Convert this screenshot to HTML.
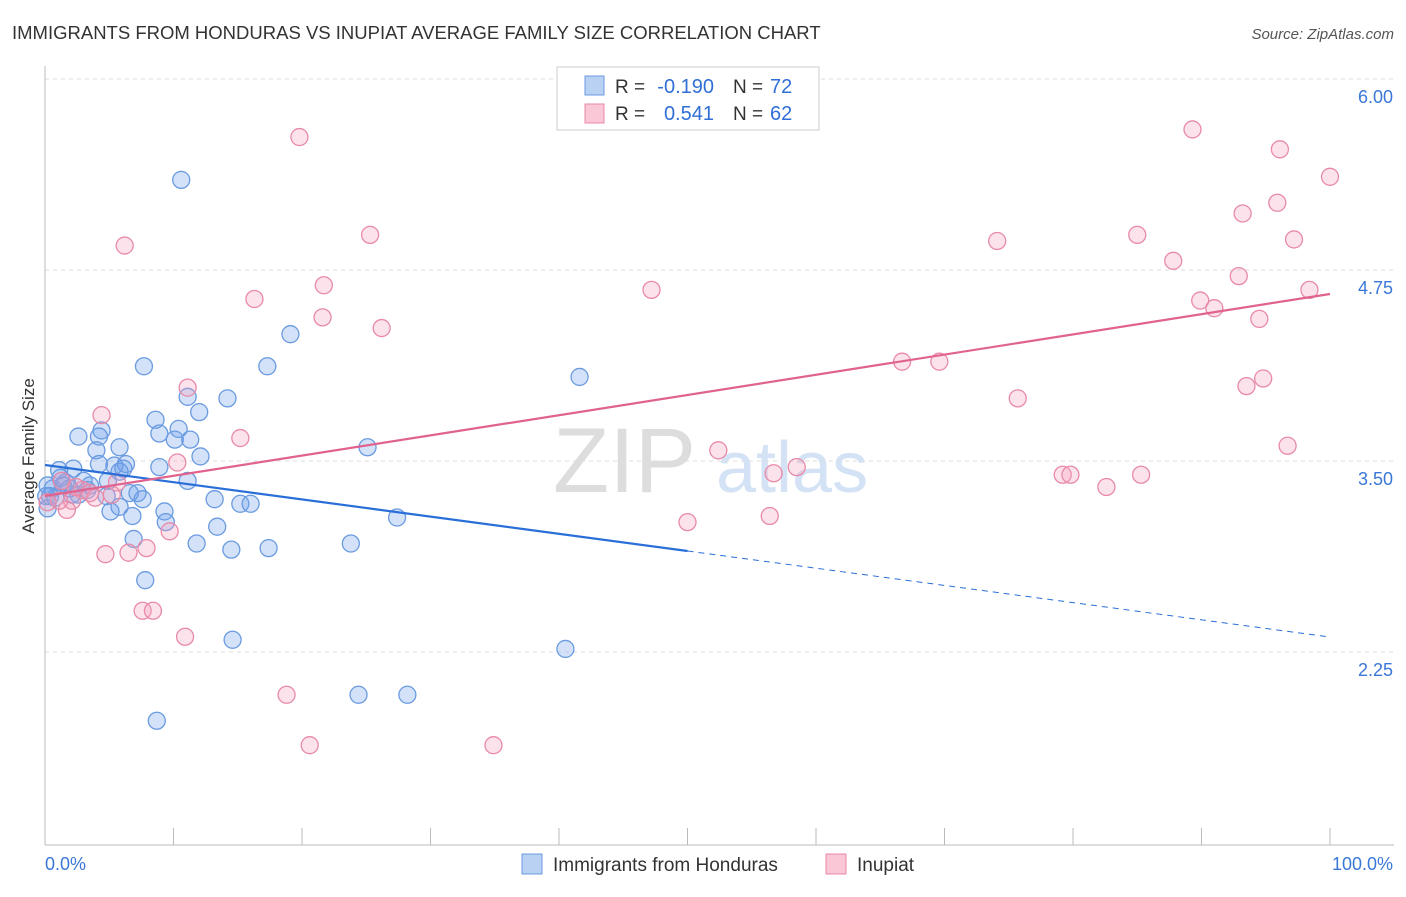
<!DOCTYPE html>
<html><head><meta charset="utf-8"><style>
body{margin:0;background:#fff;font-family:"Liberation Sans",sans-serif}
svg text{font-family:"Liberation Sans",sans-serif}
</style></head><body>
<svg id="c" width="1406" height="892" xmlns="http://www.w3.org/2000/svg">
<text x="12" y="39" font-size="18.5" fill="#333">IMMIGRANTS FROM HONDURAS VS INUPIAT AVERAGE FAMILY SIZE CORRELATION CHART</text>
<text x="1394" y="39" font-size="15" fill="#555" font-style="italic" text-anchor="end">Source: ZipAtlas.com</text>
<g><text x="553" y="492" font-size="92" fill="#ddd" font-family="Liberation Serif">ZIP</text><text x="716" y="492" font-size="72" fill="#d4e2f5">atlas</text></g>
<g id="grid"></g><g id="marks"></g>
<text x="34" y="456" font-size="17" fill="#333" transform="rotate(-90 34 456)" text-anchor="middle">Average Family Size</text>
<g>
<rect x="557" y="67" width="262" height="63" fill="#fff" stroke="#ccc"/>
<rect x="585" y="76" width="19" height="19" fill="#b9d2f3" stroke="#6a9be0"/>
<rect x="585" y="104" width="19" height="19" fill="#f9c7d6" stroke="#e88aa8"/>
<text x="615" y="93" font-size="19" fill="#333">R =</text>
<text x="714" y="93" font-size="20" fill="#2f6fd6" text-anchor="end">-0.190</text>
<text x="733" y="93" font-size="19" fill="#333">N =</text>
<text x="770" y="93" font-size="20" fill="#2f6fd6">72</text>
<text x="615" y="120" font-size="19" fill="#333">R =</text>
<text x="714" y="120" font-size="20" fill="#2f6fd6" text-anchor="end">0.541</text>
<text x="733" y="120" font-size="19" fill="#333">N =</text>
<text x="770" y="120" font-size="20" fill="#2f6fd6">62</text>
</g>
<g>
<rect x="522" y="854" width="20" height="20" fill="#b9d2f3" stroke="#6a9be0"/>
<text x="553" y="871" font-size="19" fill="#333">Immigrants from Honduras</text>
<rect x="826" y="854" width="20" height="20" fill="#f9c7d6" stroke="#e88aa8"/>
<text x="857" y="871" font-size="19" fill="#333">Inupiat</text>
</g>
</svg>
<script>
const yTicks=[6.00,4.75,3.50,2.25];
const yTickLabels=["6.00","4.75","3.50","2.25"];
const blueX=[10.6,7.7,19.1,17.3,41.6,14.2,11.1,12.0,8.6,8.9,10.4,10.1,11.3,2.6,4.4,4.2,5.8,4.0,25.1,12.1,8.9,6.3,4.2,5.4,2.2,1.1,5.8,6.1,11.1,4.9,3.0,1.6,3.5,0.6,1.9,6.6,7.2,4.8,7.6,0.4,2.6,13.2,15.2,16.0,5.8,9.3,5.1,6.8,27.4,9.4,13.4,6.9,11.8,14.5,17.4,23.8,7.8,14.6,40.5,24.4,28.2,8.7,0.2,0.8,1.4,2.1,0.2,3.3,1.2,0.1];
const blueY=[5.34,4.12,4.33,4.12,4.05,3.91,3.92,3.82,3.77,3.68,3.71,3.64,3.64,3.66,3.70,3.66,3.59,3.57,3.59,3.53,3.46,3.48,3.48,3.47,3.45,3.44,3.43,3.45,3.37,3.37,3.37,3.36,3.34,3.32,3.32,3.29,3.29,3.27,3.25,3.27,3.28,3.25,3.22,3.22,3.20,3.17,3.17,3.14,3.13,3.10,3.07,2.99,2.96,2.92,2.93,2.96,2.72,2.33,2.27,1.97,1.97,1.80,3.19,3.26,3.34,3.28,3.34,3.31,3.39,3.27];
const pinkX=[19.8,6.2,25.3,16.3,21.7,21.6,26.2,47.2,11.1,4.4,15.2,10.3,5.6,2.9,3.9,2.1,1.7,9.7,7.9,6.5,4.7,7.6,8.4,10.9,18.8,20.6,34.9,89.3,96.1,100,93.2,95.9,85.0,74.1,97.2,87.8,92.9,98.4,89.9,91.0,94.5,66.7,69.6,75.7,94.8,93.5,96.7,52.4,58.5,56.7,79.2,79.8,85.3,82.6,50.0,56.4,1.1,0.2,3.5,5.2,2.4,1.3];
const pinkY=[5.62,4.91,4.98,4.56,4.65,4.44,4.37,4.62,3.98,3.80,3.65,3.49,3.36,3.31,3.26,3.24,3.18,3.04,2.93,2.90,2.89,2.52,2.52,2.35,1.97,1.64,1.64,5.67,5.54,5.36,5.12,5.19,4.98,4.94,4.95,4.81,4.71,4.62,4.55,4.50,4.43,4.15,4.15,3.91,4.04,3.99,3.60,3.57,3.46,3.42,3.41,3.41,3.41,3.33,3.10,3.14,3.24,3.23,3.29,3.28,3.33,3.37];
const blueFit=[3.474,-0.01126]; // intercept, slope per %
const pinkFit=[3.271,0.01322];
const X=v=>45+v*12.85, Y=v=>79+(6-v)*152.8;
const NS="http://www.w3.org/2000/svg";
function mk(t,a,p){const e=document.createElementNS(NS,t);for(const k in a)e.setAttribute(k,a[k]);p.appendChild(e);return e;}
const g=document.getElementById('grid'), m=document.getElementById('marks');
yTicks.forEach((t,i)=>{
 const l=mk('line',{x1:45,x2:1394,y1:Y(t),y2:Y(t),stroke:'#ddd','stroke-dasharray':'4,4'},g);
 
 
 const tx=mk('text',{x:1393,y:Y(t)+24,'font-size':18,fill:'#3a78d8','text-anchor':'end'},g);tx.textContent=yTickLabels[i];
 
 
});
const ax=mk('line',{x1:45,x2:1394,y1:845,y2:845,stroke:'#bbb'},g);


const ay=mk('line',{x1:45,x2:45,y1:66,y2:845,stroke:'#bbb'},g);


for(let i=1;i<=10;i++){const t=mk('line',{x1:X(i*10),x2:X(i*10),y1:828,y2:845,stroke:'#bbb'},g);
 
 }
const xl0=mk('text',{x:45,y:870,'font-size':18,fill:'#3a78d8'},g);xl0.textContent='0.0%';


const xl1=mk('text',{x:1393,y:870,'font-size':18,fill:'#3a78d8','text-anchor':'end'},g);xl1.textContent='100.0%';


blueX.forEach((v,i)=>{const c=mk('circle',{cx:X(v),cy:Y(blueY[i]),r:8.5,fill:'rgba(110,160,235,0.3)',stroke:'#6a9be0','stroke-width':1.3},m);
 
 });
pinkX.forEach((v,i)=>{const c=mk('circle',{cx:X(v),cy:Y(pinkY[i]),r:8.5,fill:'rgba(245,160,190,0.3)',stroke:'#e88aa8','stroke-width':1.3},m);
 
 });
const bf=v=>blueFit[0]+blueFit[1]*v, pf=v=>pinkFit[0]+pinkFit[1]*v;
const b1=mk('line',{x1:X(0),y1:Y(bf(0)),x2:X(50),y2:Y(bf(50)),stroke:'#2a6fd8','stroke-width':2.2},m);


const b2=mk('line',{x1:X(50),y1:Y(bf(50)),x2:X(100),y2:Y(bf(100)),stroke:'#2a6fd8','stroke-width':1,'stroke-dasharray':'6,5'},m);


const p1=mk('line',{x1:X(0),y1:Y(pf(0)),x2:X(100),y2:Y(pf(100)),stroke:'#e0628e','stroke-width':2.2},m);


</script>
</body></html>
